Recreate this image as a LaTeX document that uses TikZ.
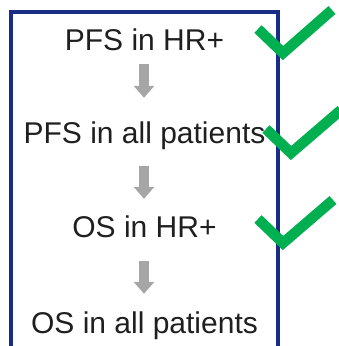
\documentclass[tikz,border=0pt]{standalone}
\usepackage{fontspec}
\setmainfont{Liberation Sans}
\usetikzlibrary{arrows.meta}
\definecolor{boxblue}{RGB}{25,45,135}
\definecolor{checkgreen}{RGB}{0,176,80}
\definecolor{arrowgray}{RGB}{166,166,166}
\begin{document}
\begin{tikzpicture}[x=1pt,y=-1pt,
  label/.style={inner sep=0pt, anchor=base, font=\fontsize{30}{36}\selectfont,
    text height=22pt, text depth=7pt, text=black!88},
  blockarrow/.style={draw=arrowgray, line width=10pt,
    -{Triangle[width=20pt,length=12pt]}, arrowgray},
  checkmark/.style={draw=checkgreen, line width=10.5pt, line join=miter, line cap=butt}]
\useasboundingbox (0,0) rectangle (338,346);
\begin{scope}
\clip (0,0) rectangle (338,346);
\draw[boxblue, line width=4pt] (10.5,11.5) rectangle (277.5,380);
\end{scope}
\node[label] (a) at (144.5,50) {PFS in HR+};
\node[label] (b) at (144.5,143) {PFS in all patients};
\node[label] (c) at (144.5,237) {OS in HR+};
\node[label] (d) at (144.5,333) {OS in all patients};
\draw[blockarrow, shorten <=7pt, shorten >=23pt] ([xshift=-0.5pt]a.south) -- ([xshift=-0.5pt]b.north);
\draw[blockarrow, shorten <=16pt, shorten >=16pt] ([xshift=-0.5pt]b.south) -- ([xshift=-0.5pt]c.north);
\draw[blockarrow, shorten <=17pt, shorten >=17pt] ([xshift=-0.5pt]c.south) -- ([xshift=-0.5pt]d.north);
\draw[checkmark] (258,29) -- (283,53) -- (332,10);
\draw[checkmark] (266,129) -- (291,153) -- (341,110);
\draw[checkmark] (258,219) -- (283,243) -- (333,200);
\end{tikzpicture}
\end{document}
